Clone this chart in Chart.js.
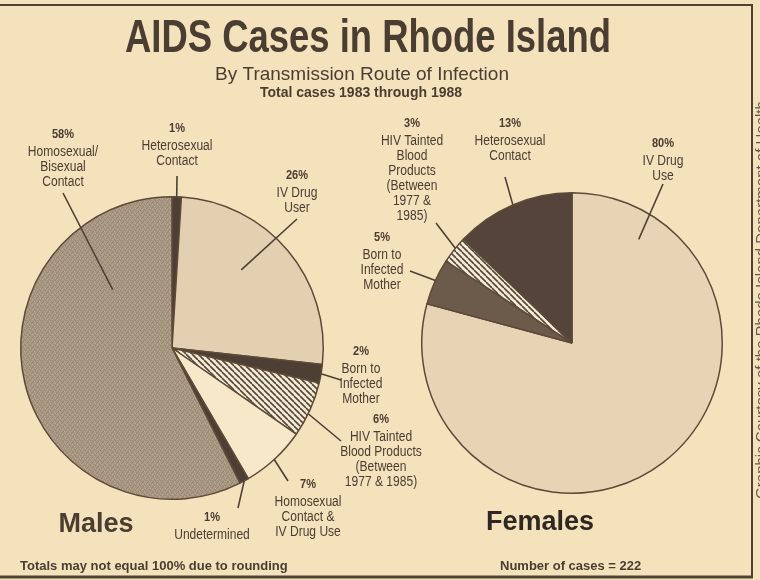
<!DOCTYPE html>
<html>
<head>
<meta charset="utf-8">
<title>AIDS Cases in Rhode Island</title>
<script src="https://cdn.jsdelivr.net/npm/chart.js@4.4.1/dist/chart.umd.min.js"></script>
<style>
  body { margin: 0; background: #f4e2bc; }
  #wrap { position: relative; width: 760px; height: 580px; background: #f4e2bc; overflow: hidden; }
  #wrap canvas { position: absolute; left: 0; top: 0; }
</style>
</head>
<body>
<div id="wrap">
  <canvas id="males" width="760" height="580"></canvas>
  <canvas id="females" width="760" height="580"></canvas>
</div>
<script>
'use strict';

// DATA
let malesCategories = [
  'Heterosexual\nContact',
  'IV Drug\nUser',
  'Born to\nInfected\nMother',
  'HIV Tainted\nBlood Products\n(Between\n1977 & 1985)',
  'Homosexual\nContact &\nIV Drug Use',
  'Undetermined',
  'Homosexual/\nBisexual\nContact'
];
let malesValues = [1, 26, 2, 6, 7, 1, 58];

let femalesCategories = [
  'IV Drug\nUse',
  'Born to\nInfected\nMother',
  'HIV Tainted\nBlood\nProducts\n(Between\n1977 &\n1985)',
  'Heterosexual\nContact'
];
let femalesValues = [80, 5, 3, 13];

// label placement (at = where along the slice the leader starts, r = fraction of radius)
let malesLabelPos = [
  { at: 0.5, r: 1.0, end: [177, 176], text: [177, 132] },
  { at: 0.41, r: 0.69, end: [297, 219], text: [297, 179] },
  { at: 0.5, r: 1.0, end: [341, 380], text: [361, 355] },
  { at: 0.58, r: 1.0, end: [341, 441], text: [381, 423] },
  { at: 0.51, r: 1.0, end: [288, 481], text: [308, 488] },
  { at: 0.5, r: 1.0, end: [238, 508], text: [212, 521] },
  { at: 0.78, r: 0.55, end: [63, 193], text: [63, 138] }
];
let femalesLabelPos = [
  { at: 0.115, r: 0.82, end: [663, 184], text: [663, 147] },
  { at: 0.53, r: 1.0, end: [410, 271], text: [382, 241] },
  { at: 0.57, r: 1.0, end: [436, 223], text: [412, 127] },
  { at: 0.5, r: 1.0, end: [505, 177], text: [510, 127] }
];

const ink = '#4a3d32';
const edge = '#5e4a38';
const sans = '"Liberation Sans", Arial, sans-serif';

// condensed text, like the newspaper's Helvetica Condensed
function narrowText(ctx, text, x, y, squeeze) {
  ctx.save();
  ctx.translate(x, y);
  ctx.scale(squeeze, 1);
  ctx.fillText(text, 0, 0);
  ctx.restore();
}

// PATTERNS
function makeHatch() {
  let c = document.createElement('canvas');
  let s = 6;
  c.width = s;
  c.height = s;
  let g = c.getContext('2d');
  g.fillStyle = '#f6ecd6';
  g.fillRect(0, 0, s, s);
  g.strokeStyle = '#55463a';
  g.lineWidth = 1.6;
  for (let k = -s; k <= s; k += s) {
    g.beginPath();
    g.moveTo(k, 0);
    g.lineTo(k + s, s);
    g.stroke();
  }
  return g.createPattern(c, 'repeat');
}

function makeStipple() {
  let c = document.createElement('canvas');
  c.width = 5;
  c.height = 5;
  let g = c.getContext('2d');
  g.fillStyle = '#a89782';
  g.fillRect(0, 0, 5, 5);
  g.fillStyle = '#978670';
  [[0, 0], [3, 1], [1, 3], [4, 4], [2, 2]].forEach(p => g.fillRect(p[0], p[1], 1, 1));
  g.fillStyle = '#b8a890';
  [[2, 4], [4, 1], [0, 3]].forEach(p => g.fillRect(p[0], p[1], 1, 1));
  return g.createPattern(c, 'repeat');
}

let hatch = makeHatch();
let stipple = makeStipple();

// LABELS WITH LEADER LINES
function drawLabels(chart, categories, values, layout) {
  let ctx = chart.ctx;
  let arcs = chart.getDatasetMeta(0).data;
  ctx.save();
  ctx.strokeStyle = '#4e4034';
  ctx.lineWidth = 1.6;
  ctx.fillStyle = ink;
  ctx.textAlign = 'center';
  ctx.textBaseline = 'alphabetic';
  for (let i = 0; i < arcs.length; i++) {
    let a = arcs[i];
    let pos = layout[i];
    let ang = a.startAngle + (a.endAngle - a.startAngle) * pos.at;
    let px = a.x + Math.cos(ang) * a.outerRadius * pos.r;
    let py = a.y + Math.sin(ang) * a.outerRadius * pos.r;
    ctx.beginPath();
    ctx.moveTo(px, py);
    ctx.lineTo(pos.end[0], pos.end[1]);
    ctx.stroke();

    ctx.font = 'bold 12px ' + sans;
    narrowText(ctx, values[i] + '%', pos.text[0], pos.text[1], 0.92);
    ctx.font = '14px ' + sans;
    let lines = categories[i].split('\n');
    for (let j = 0; j < lines.length; j++) {
      narrowText(ctx, lines[j], pos.text[0], pos.text[1] + 18 + j * 15, 0.86);
    }
  }
  ctx.restore();
}

// TITLES, NOTES AND FRAME
const pageText = {
  id: 'pageText',
  afterDraw(chart) {
    let ctx = chart.ctx;
    ctx.save();
    ctx.strokeStyle = '#4f4235';
    ctx.lineWidth = 2;
    ctx.beginPath();
    ctx.moveTo(0, 5);
    ctx.lineTo(753, 5);
    ctx.moveTo(752, 5);
    ctx.lineTo(752, 577);
    ctx.stroke();
    ctx.lineWidth = 3;
    ctx.beginPath();
    ctx.moveTo(0, 577);
    ctx.lineTo(753, 577);
    ctx.stroke();

    ctx.fillStyle = ink;
    ctx.textAlign = 'center';
    ctx.font = 'bold 47px ' + sans;
    ctx.fillText('AIDS Cases in Rhode Island', 368, 52, 486);
    ctx.font = '19px ' + sans;
    ctx.fillText('By Transmission Route of Infection', 362, 80, 298);
    ctx.font = 'bold 14px ' + sans;
    ctx.fillText('Total cases 1983 through 1988', 361, 97, 207);

    ctx.font = 'bold 27px ' + sans;
    ctx.fillText('Males', 96, 532);
    ctx.fillStyle = '#2f2822';
    ctx.fillText('Females', 540, 530);

    ctx.fillStyle = ink;
    ctx.font = 'bold 13px ' + sans;
    ctx.textAlign = 'left';
    ctx.fillText('Totals may not equal 100% due to rounding', 20, 570, 296);
    ctx.fillText('Number of cases = 222', 500, 570, 156);

    // credit line running up the right edge, cut by the page
    ctx.translate(766, 300);
    ctx.rotate(-Math.PI / 2);
    ctx.textAlign = 'center';
    ctx.fillStyle = '#65584b';
    ctx.font = '15px ' + sans;
    ctx.fillText('Graphic Courtesy of the Rhode Island Department of Health', 0, 0, 560);
    ctx.restore();
  }
};

const maleLabels = {
  id: 'maleLabels',
  afterDatasetsDraw(chart) {
    drawLabels(chart, malesCategories, malesValues, malesLabelPos);
  }
};

const femaleLabels = {
  id: 'femaleLabels',
  afterDatasetsDraw(chart) {
    drawLabels(chart, femalesCategories, femalesValues, femalesLabelPos);
  }
};

function pieOptions(padding) {
  return {
    responsive: false,
    animation: false,
    events: [],
    layout: { padding: padding },
    plugins: {
      legend: { display: false },
      tooltip: { enabled: false },
      title: { display: false }
    }
  };
}

// CHARTS
const malesChart = new Chart(document.getElementById('males'), {
  type: 'pie',
  data: {
    labels: malesCategories,
    datasets: [{
      data: malesValues,
      backgroundColor: ['#4d3f33', '#e3d0b0', '#4d3f33', hatch, '#f7e8c9', '#4d3f33', stipple],
      borderColor: edge,
      borderWidth: 1.5,
      hoverOffset: 0
    }]
  },
  options: pieOptions({ left: 20, right: 436, top: 196, bottom: 80 }),
  plugins: [maleLabels, pageText]
});

const femalesChart = new Chart(document.getElementById('females'), {
  type: 'pie',
  data: {
    labels: femalesCategories,
    datasets: [{
      data: femalesValues,
      backgroundColor: ['#e6d4b5', '#6c5b4b', hatch, '#54443a'],
      borderColor: edge,
      borderWidth: 1.5,
      hoverOffset: 0
    }]
  },
  options: pieOptions({ left: 421, right: 37, top: 192, bottom: 86 }),
  plugins: [femaleLabels]
});
</script>
</body>
</html>
